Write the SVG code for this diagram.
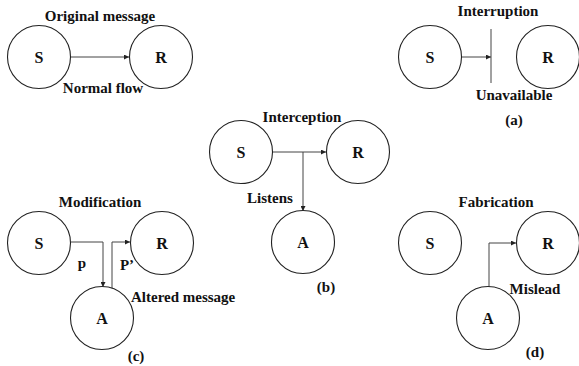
<svg xmlns="http://www.w3.org/2000/svg" width="579" height="366" viewBox="0 0 579 366">
<style>
.n{fill:#fff;stroke:#222;stroke-width:1.1}
.t{font-family:"Liberation Serif","Times New Roman",serif;font-weight:bold;font-size:15px;fill:#111}
.nl{font-family:"Liberation Serif","Times New Roman",serif;font-weight:bold;font-size:16px;fill:#111;text-anchor:middle}
.c{fill:none;stroke:#444;stroke-width:1}
.m{text-anchor:middle}
</style>
<defs>
<marker id="ah" markerUnits="userSpaceOnUse" markerWidth="6" markerHeight="5" refX="5" refY="2.5" orient="auto">
<path d="M0,0 L5,2.5 L0,5 z" fill="#222"/>
</marker>
</defs>
<rect width="579" height="366" fill="#fff"/>
<g id="connectors">
<path class="c" d="M71,57 H129" marker-end="url(#ah)"/>
<path class="c" d="M462,57 H491" marker-end="url(#ah)"/>
<path class="c" d="M491,29 V83"/>
<path class="c" d="M273,152 H326" marker-end="url(#ah)"/>
<path class="c" d="M303,152 V211" marker-end="url(#ah)"/>
<path class="c" d="M71,242 H103 V287" marker-end="url(#ah)"/>
<path class="c" d="M112,289 V242 H130" marker-end="url(#ah)"/>
<path class="c" d="M489,287 V243 H516" marker-end="url(#ah)"/>
</g>
<g id="S1"><circle class="n" cx="39" cy="57" r="31.5"/><text class="nl" x="39" y="63">S</text></g>
<g id="R1"><circle class="n" cx="161" cy="57" r="31.5"/><text class="nl" x="161" y="63">R</text></g>
<g id="S2"><circle class="n" cx="430" cy="57" r="31.5"/><text class="nl" x="430" y="63">S</text></g>
<g id="R2"><circle class="n" cx="548" cy="57" r="31.5"/><text class="nl" x="548" y="63">R</text></g>
<g id="S3"><circle class="n" cx="241" cy="152" r="31.5"/><text class="nl" x="241" y="158">S</text></g>
<g id="R3"><circle class="n" cx="358" cy="152" r="31.5"/><text class="nl" x="358" y="158">R</text></g>
<g id="A3"><circle class="n" cx="303" cy="242" r="31.5"/><text class="nl" x="303" y="248">A</text></g>
<g id="S4"><circle class="n" cx="39" cy="243" r="31.5"/><text class="nl" x="39" y="249">S</text></g>
<g id="R4"><circle class="n" cx="162" cy="243" r="31.5"/><text class="nl" x="162" y="249">R</text></g>
<g id="A4"><circle class="n" cx="102" cy="318" r="31.5"/><text class="nl" x="102" y="324">A</text></g>
<g id="S5"><circle class="n" cx="430" cy="243" r="31.5"/><text class="nl" x="430" y="249">S</text></g>
<g id="R5"><circle class="n" cx="548" cy="243" r="31.5"/><text class="nl" x="548" y="249">R</text></g>
<g id="A5"><circle class="n" cx="488" cy="318" r="31.5"/><text class="nl" x="488" y="324">A</text></g>
<g id="labels">
<text class="t m" x="100" y="21">Original message</text>
<text class="t m" x="103" y="93">Normal flow</text>
<text class="t m" x="498" y="16">Interruption</text>
<text class="t m" x="514" y="100">Unavailable</text>
<text class="t m" x="514" y="125">(a)</text>
<text class="t m" x="302" y="122">Interception</text>
<text class="t m" x="270" y="203">Listens</text>
<text class="t m" x="326" y="292">(b)</text>
<text class="t m" x="100" y="207">Modification</text>
<text class="t m" x="82" y="268">p</text>
<text class="t m" x="127" y="270">P’</text>
<text class="t" x="131" y="302">Altered message</text>
<text class="t m" x="136" y="361">(c)</text>
<text class="t m" x="496" y="207">Fabrication</text>
<text class="t m" x="535" y="294">Mislead</text>
<text class="t m" x="535" y="357">(d)</text>
</g>
</svg>
